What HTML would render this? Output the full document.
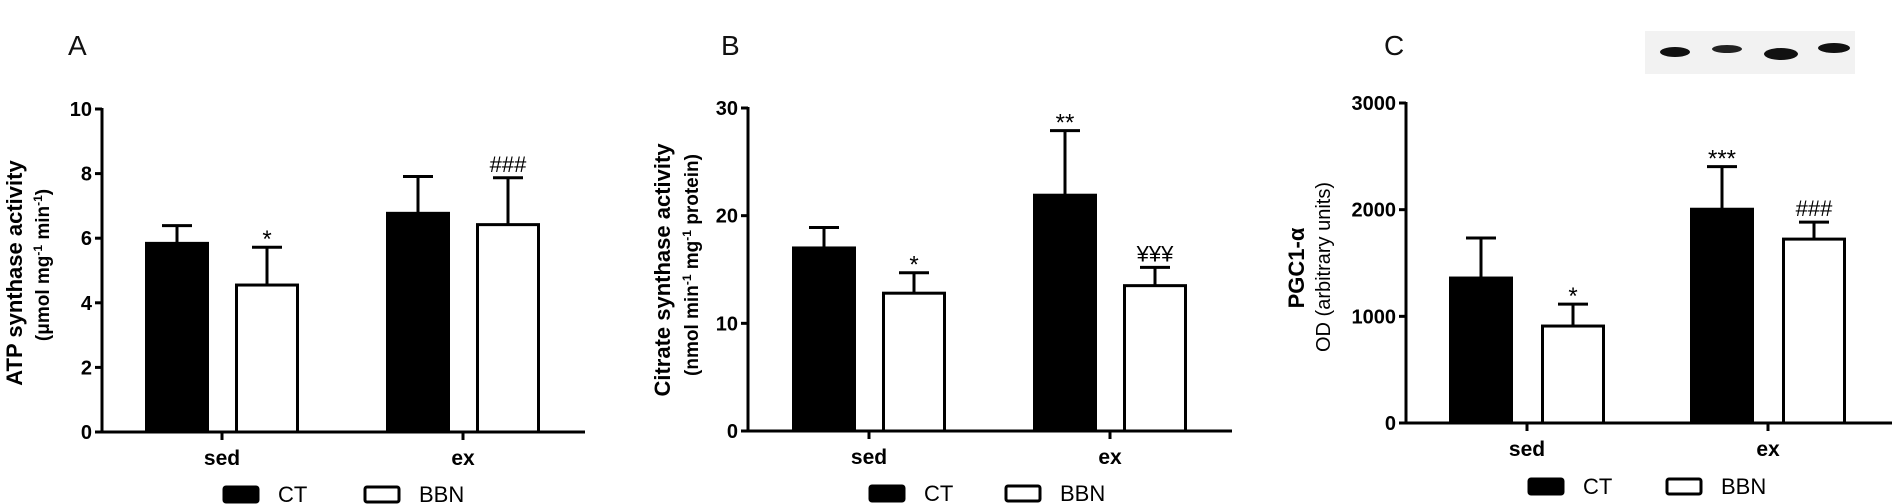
<!DOCTYPE html>
<html><head><meta charset="utf-8"><style>
html,body{margin:0;padding:0;background:#fff;}
svg{display:block;font-family:"Liberation Sans",Arial,sans-serif;}
</style></head><body>
<svg id="fig" width="1892" height="504" viewBox="0 0 1892 504" xmlns="http://www.w3.org/2000/svg">
<g id="blot">
  <rect x="1645" y="31" width="210" height="43" fill="#f2f2f2"/>
  <ellipse cx="1675" cy="52" rx="15" ry="5" fill="#111"/>
  <ellipse cx="1727" cy="49" rx="15" ry="4" fill="#222"/>
  <ellipse cx="1781" cy="54" rx="17" ry="6" fill="#111"/>
  <ellipse cx="1834" cy="48" rx="16" ry="5" fill="#111"/>
</g>
</svg>
<script>
const groups = ["sed", "ex"];
const seriesNames = ["CT", "BBN"];
const atpMean = [[5.84, 4.55], [6.77, 6.42]];
const atpErr = [[6.39, 5.72], [7.91, 7.87]];
const atpMarks = [["", "*"], ["", "###"]];
const atpTicks = [0, 2, 4, 6, 8, 10];
const csMean = [[17.0, 12.8], [21.9, 13.5]];
const csErr = [[18.9, 14.7], [27.9, 15.2]];
const csMarks = [["", "*"], ["**", "\u00A5\u00A5\u00A5"]];
const csTicks = [0, 10, 20, 30];
const pgcMean = [[1359, 909], [2004, 1724]];
const pgcErr = [[1734, 1115], [2404, 1883]];
const pgcMarks = [["", "*"], ["***", "###"]];
const pgcTicks = [0, 1000, 2000, 3000];

const NS = "http://www.w3.org/2000/svg";
const svg = document.getElementById('fig');
function mk(tag, attrs, parent, text){
  const e = document.createElementNS(NS, tag);
  for (const k in attrs) e.setAttribute(k, attrs[k]);
  if (text !== undefined) e.textContent = text;
  (parent || svg).appendChild(e);
  return e;
}

function panel(cfg){
  const g = mk('g', {});
  
  
  const y = v => cfg.y0 - (v - cfg.ymin) / (cfg.ymax - cfg.ymin) * (cfg.y0 - cfg.ytop);
  const pl = mk('text', {x: cfg.labelX, y: 55, 'font-size': 28, fill: '#111'}, g, cfg.id);
  
  
  const ya = mk('line', {x1: cfg.ax, y1: y(cfg.ymax) - 1, x2: cfg.ax, y2: cfg.y0 + 1.5, stroke: '#000', 'stroke-width': 3}, g);
  
  
  const xa = mk('line', {x1: cfg.ax - 7, y1: cfg.y0, x2: cfg.axEnd, y2: cfg.y0, stroke: '#000', 'stroke-width': 3}, g);
  
  
  cfg.ticks.forEach(t => {
    mk('line', {x1: cfg.ax - 7, y1: y(t), x2: cfg.ax, y2: y(t), stroke: '#000', 'stroke-width': 3}, g);
    const tl = mk('text', {x: cfg.ax - 10, y: y(t) + 7, 'font-size': 20, 'font-weight': 'bold', 'text-anchor': 'end'}, g, String(t));
    
    
  });
  const t1 = mk('text', {transform: `translate(${cfg.t1x},${cfg.tcy}) rotate(-90)`, 'font-size': 22, 'font-weight': 'bold', 'text-anchor': 'middle'}, g);
  t1.innerHTML = cfg.title1;
  
  
  const t2 = mk('text', {transform: `translate(${cfg.t2x},${cfg.tcy2}) rotate(-90)`, 'font-size': cfg.t2size, 'font-weight': cfg.t2bold ? 'bold' : 'normal', 'text-anchor': 'middle'}, g);
  t2.innerHTML = cfg.title2;
  
  
  groups.forEach((grp, gi) => {
    const cx = cfg.gx[gi];
    mk('line', {x1: cx, y1: cfg.y0, x2: cx, y2: cfg.y0 + 8, stroke: '#000', 'stroke-width': 3}, g);
    const gl = mk('text', {x: cx, y: cfg.y0 + 33, 'font-size': 21, 'font-weight': 'bold', 'text-anchor': 'middle'}, g, grp);
    
    
    seriesNames.forEach((s, si) => {
      const bx = cx + (si === 0 ? -cfg.off - cfg.bw / 2 : cfg.off - cfg.bw / 2);
      const mid = bx + cfg.bw / 2;
      const top = y(cfg.mean[gi][si]);
      const et = y(cfg.err[gi][si]);
      mk('line', {x1: mid, y1: top, x2: mid, y2: et, stroke: '#000', 'stroke-width': 3}, g);
      mk('line', {x1: mid - 15, y1: et, x2: mid + 15, y2: et, stroke: '#000', 'stroke-width': 3}, g);
      const r = mk('rect', {x: bx, y: top, width: cfg.bw, height: cfg.y0 - top, fill: si === 0 ? '#000' : '#fff', stroke: '#000', 'stroke-width': 3}, g);
      
      
      const m = cfg.marks[gi][si];
      if (m) {
        const isStar = m.indexOf('*') >= 0;
        const a = mk('text', {x: mid, y: et - (isStar ? 0 : 6), 'font-size': isStar ? 24 : 22, 'text-anchor': 'middle'}, g, m);
        
        
      }
    });
  });
  const lg = mk('g', {}, g);
  
  
  seriesNames.forEach((s, si) => {
    const lx = cfg.legX[si];
    mk('rect', {x: lx, y: cfg.legY, width: 34, height: 15, rx: 2, fill: si === 0 ? '#000' : '#fff', stroke: '#000', 'stroke-width': 3}, lg);
    const lt = mk('text', {x: lx + 54, y: cfg.legY + 15, 'font-size': 22}, lg, s);
    
    
  });
}

panel({id: 'A', labelX: 68, ax: 102, axEnd: 585, y0: 432, ytop: 109, ymin: 0, ymax: 10,
  ticks: atpTicks, mean: atpMean, err: atpErr, marks: atpMarks,
  gx: [222, 463], off: 45, bw: 61,
  title1: 'ATP synthase activity', t1x: 22, tcy: 273,
  title2: '(\u03BCmol mg<tspan baseline-shift="super" font-size="12">-1</tspan> min<tspan baseline-shift="super" font-size="12">-1</tspan>)', t2x: 49, tcy2: 265, t2bold: true, t2size: 19,
  legX: [224, 365], legY: 487});

panel({id: 'B', labelX: 721, ax: 748, axEnd: 1232, y0: 431, ytop: 108, ymin: 0, ymax: 30,
  ticks: csTicks, mean: csMean, err: csErr, marks: csMarks,
  gx: [869, 1110], off: 45, bw: 61,
  title1: 'Citrate synthase activity', t1x: 670, tcy: 270,
  title2: '(nmol min<tspan baseline-shift="super" font-size="12">-1</tspan> mg<tspan baseline-shift="super" font-size="12">-1</tspan> protein)', t2x: 698, tcy2: 265, t2bold: true, t2size: 19,
  legX: [870, 1006], legY: 486});

panel({id: 'C', labelX: 1384, ax: 1406, axEnd: 1892, y0: 423, ytop: 103, ymin: 0, ymax: 3000,
  ticks: pgcTicks, mean: pgcMean, err: pgcErr, marks: pgcMarks,
  gx: [1527, 1768], off: 46, bw: 61,
  title1: 'PGC1-\u03B1', t1x: 1304, tcy: 268,
  title2: 'OD (arbitrary units)', t2x: 1330, tcy2: 267, t2bold: false, t2size: 20,
  legX: [1529, 1667], legY: 479});
</script>
</body></html>
